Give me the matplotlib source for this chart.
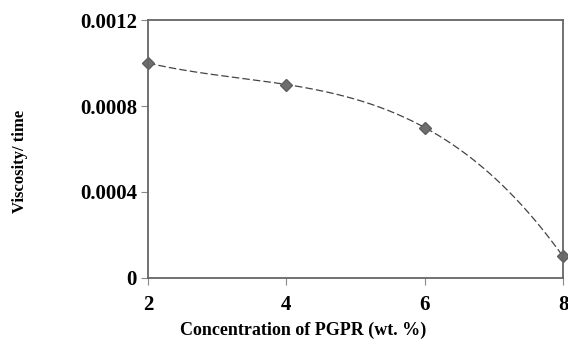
import numpy as np
import matplotlib
matplotlib.use("Agg")
import matplotlib.pyplot as plt

# data
concentration = [2, 4, 6, 8]
viscosity = [0.0010, 0.0009, 0.0007, 0.0001]
x_ticks = [2, 4, 6, 8]
y_ticks = [0, 0.0004, 0.0008, 0.0012]
y_tick_labels = ['0', '0.0004', '0.0008', '0.0012']

plt.rcParams['font.family'] = ['Liberation Serif', 'DejaVu Serif']
plt.rcParams['font.weight'] = 'bold'

fig = plt.figure(figsize=(5.68, 3.41), dpi=100)
ax = fig.add_axes([0.2606, 0.1848, 0.7306, 0.7565])

# smooth trend through the four points (cubic fits them exactly)
coef = np.polyfit(concentration, viscosity, 3)
sx = np.linspace(min(concentration), max(concentration), 200)
ax.plot(sx, np.polyval(coef, sx), color='#444444', linewidth=0.9,
        linestyle=(0, (6, 2.5)))
ax.plot(concentration, viscosity, linestyle='none', marker='D',
        markersize=6, color='#6e6e6e', markeredgecolor='#5e5e5e', clip_on=False)

ax.set_xlim(2, 8)
ax.set_ylim(0, 0.0012)
ax.set_xticks(x_ticks)
ax.set_xticklabels([str(v) for v in x_ticks], fontsize=15, fontweight='bold')
ax.set_yticks(y_ticks)
ax.set_yticklabels(y_tick_labels, fontsize=15, fontweight='bold')
ax.tick_params(direction='out', length=5, width=0.8, color='#888888', pad=3)
ax.tick_params(axis='x', pad=7)

for s in ax.spines.values():
    s.set_color('#666666')
    s.set_linewidth(1.3)

fig.text(303 / 568, 0.03, 'Concentration of PGPR (wt. %)', fontsize=13,
         fontweight='bold', ha='center', va='center')
fig.text(20 / 568, 0.528, 'Viscosity/ time', fontsize=12, fontweight='bold',
         rotation=90, ha='center', va='center')

fig.savefig('out.png', dpi=100)
